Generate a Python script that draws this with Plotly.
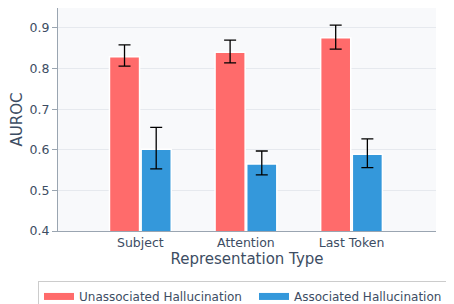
import plotly.graph_objects as go

categories = ["Subject", "Attention", "Last Token"]
unassoc = [0.829, 0.840, 0.876]
unassoc_plus = [0.029, 0.030, 0.031]
unassoc_minus = [0.023, 0.026, 0.028]
assoc = [0.601, 0.565, 0.589]
assoc_plus = [0.054, 0.032, 0.038]
assoc_minus = [0.048, 0.027, 0.033]
series_names = ["Unassociated Hallucination", "Associated Hallucination"]
series_colors = ["#FF6B6B", "#3498DB"]

fig = go.Figure()
for name, vals, plus, minus, col in zip(series_names, [unassoc, assoc],
                                         [unassoc_plus, assoc_plus], [unassoc_minus, assoc_minus],
                                         series_colors):
    fig.add_trace(go.Bar(
        name=name, x=categories, y=vals, showlegend=False,
        marker=dict(color=col, line=dict(color="white", width=1.5)),
        error_y=dict(type="data", symmetric=False, array=plus, arrayminus=minus,
                     color="black", thickness=1.3, width=6),
    ))
for name, col in zip(series_names, series_colors):
    fig.add_trace(go.Scatter(
        name=name, x=[None], y=[None], mode="lines",
        line=dict(color=col, width=7),
    ))

fig.update_layout(
    width=446, height=296,
    margin=dict(l=50, r=18, t=0, b=73, autoexpand=False),
    barmode="group", bargap=0.4, bargroupgap=0.05,
    paper_bgcolor="white", plot_bgcolor="#F8F9FB",
    font=dict(family="DejaVu Sans", size=12, color="#3d4d63"),
    showlegend=True,
    legend=dict(orientation="h", x=-0.0529, xanchor="left", y=-0.224, yanchor="top",
                bordercolor="#cccccc", borderwidth=1, bgcolor="white",
                font=dict(size=12), itemwidth=30, entrywidth=170),
    xaxis=dict(range=[-0.78, 2.8], title=dict(text="Representation Type", font=dict(size=15), standoff=4),
               showline=True, linecolor="#9aa5b1", linewidth=1, showgrid=False,
               ticks="", tickfont=dict(size=12.5)),
    yaxis=dict(range=[0.4, 0.949], title=dict(text="AUROC", font=dict(size=15), standoff=8),
               dtick=0.1, tickformat=".1f",
               showline=True, linecolor="#9aa5b1", linewidth=1,
               ticks="outside", ticklen=5, tickcolor="#9aa5b1",
               gridcolor="#e6e9ee", zeroline=False, tickfont=dict(size=12.5)),
)

fig.write_html("out.html")
